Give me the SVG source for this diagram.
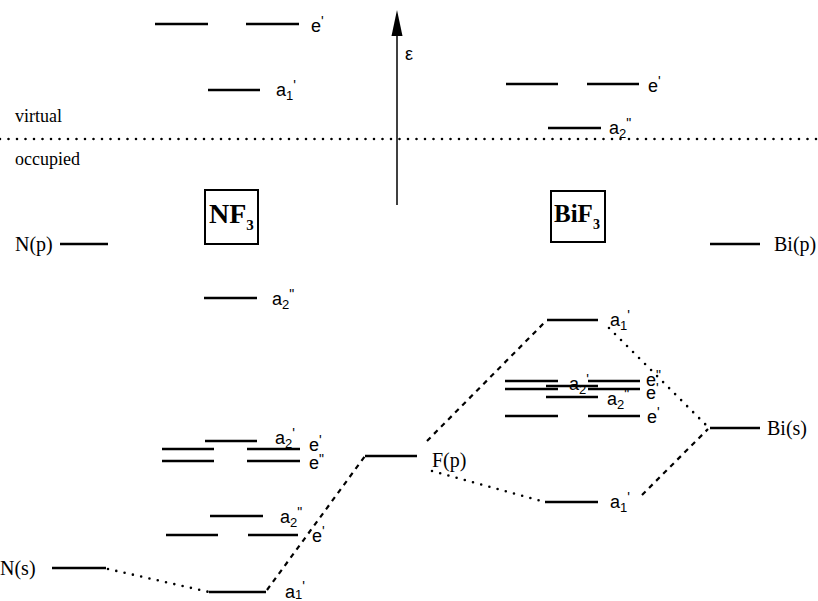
<svg xmlns="http://www.w3.org/2000/svg" width="818" height="601" viewBox="0 0 818 601">
<style>
.lv{stroke:#000;stroke-width:2.3;fill:none}
.dot{stroke:#000;stroke-width:2.6;fill:none;stroke-linecap:round;stroke-dasharray:0 8.5}
.dash{stroke:#000;stroke-width:2.2;fill:none;stroke-dasharray:5 5}
.s{font-family:"Liberation Serif","Times New Roman",serif;font-size:20px;fill:#000}
.t{font-family:"Liberation Serif","Times New Roman",serif;font-size:18px;fill:#000}
.l{font-family:"Liberation Sans",Arial,sans-serif;font-size:18px;fill:#000}
.sup{font-size:14px}
.sub{font-size:13px}
.box{stroke:#000;stroke-width:2;fill:none}
.b{font-family:"Liberation Serif","Times New Roman",serif;font-weight:bold;fill:#000}
</style>
<rect width="818" height="601" fill="#fff"/>
<g id="axis">
<line x1="0" y1="139" x2="818" y2="139" class="dot"/>
<line x1="397" y1="205" x2="397" y2="30" stroke="#000" stroke-width="1.5"/>
<polygon points="397,10 391.5,36 402.5,36" fill="#000"/>
<text x="405" y="60" class="l" font-size="20">ε</text>
<text x="15" y="122" class="t">virtual</text>
<text x="15" y="165" class="t">occupied</text>
</g>
<g id="connectors">
<polyline points="108,569 209,592" class="dot"/>
<polyline points="267,590 365,456" class="dash"/>
<polyline points="427,441 546,321" class="dash"/>
<polyline points="609,328 708,427" class="dot"/>
<polyline points="432,471 545,502" class="dot"/>
<polyline points="642,495 708,429" class="dash"/>
</g>
<g id="NF3-label">
<rect x="205" y="190" width="53" height="54" class="box"/>
<text x="209" y="223" class="b" font-size="28">NF<tspan font-size="15" dy="7">3</tspan></text>
</g>
<g id="BiF3-label">
<rect x="551" y="191" width="54" height="51" class="box"/>
<text x="554" y="222" class="b" font-size="25">BiF<tspan font-size="14" dy="7">3</tspan></text>
</g>
<g id="N-p">
<text x="15" y="251" class="s">N(p)</text>
<line x1="60" y1="244" x2="108" y2="244" class="lv"/>
</g>
<g id="N-s">
<text x="0" y="575" class="s" font-size="22">N(s)</text>
<line x1="52" y1="568" x2="106" y2="568" class="lv"/>
</g>
<g id="F-p">
<line x1="365" y1="456" x2="417" y2="456" class="lv"/>
<text x="432" y="467" class="s">F(p)</text>
</g>
<g id="Bi-p">
<line x1="710" y1="244" x2="760" y2="244" class="lv"/>
<text x="774" y="251" class="s">Bi(p)</text>
</g>
<g id="Bi-s">
<line x1="710" y1="428" x2="760" y2="428" class="lv"/>
<text x="767" y="435" class="s">Bi(s)</text>
</g>
<g id="NF3-e1-virtual">
<line x1="155" y1="24" x2="208" y2="24" class="lv"/>
<line x1="246" y1="24" x2="299" y2="24" class="lv"/>
<text x="311" y="32" class="l">e<tspan class="sup" dy="-6">'</tspan></text>
</g>
<g id="NF3-a1-virtual">
<line x1="208" y1="90" x2="260" y2="90" class="lv"/>
<text x="276" y="96" class="l">a<tspan class="sub" dy="4">1</tspan><tspan class="sup" dy="-10">'</tspan></text>
</g>
<g id="BiF3-e1-virtual">
<line x1="506" y1="84" x2="558" y2="84" class="lv"/>
<line x1="587" y1="84" x2="639" y2="84" class="lv"/>
<text x="648" y="92" class="l">e<tspan class="sup" dy="-6">'</tspan></text>
</g>
<g id="BiF3-a2-virtual">
<line x1="548" y1="128" x2="601" y2="128" class="lv"/>
<text x="609" y="134" class="l">a<tspan class="sub" dy="4">2</tspan><tspan class="sup" dy="-10">"</tspan></text>
</g>
<g id="NF3-a2pp">
<line x1="204" y1="298" x2="257" y2="298" class="lv"/>
<text x="272" y="305" class="l">a<tspan class="sub" dy="4">2</tspan><tspan class="sup" dy="-10">"</tspan></text>
</g>
<g id="NF3-a2p">
<line x1="205" y1="441" x2="257" y2="441" class="lv"/>
<text x="275" y="444" class="l">a<tspan class="sub" dy="4">2</tspan><tspan class="sup" dy="-10">'</tspan></text>
</g>
<g id="NF3-ep">
<line x1="162" y1="449" x2="214" y2="449" class="lv"/>
<line x1="247" y1="449" x2="300" y2="449" class="lv"/>
<text x="309" y="451" class="l">e<tspan class="sup" dy="-6">'</tspan></text>
</g>
<g id="NF3-epp">
<line x1="162" y1="461" x2="214" y2="461" class="lv"/>
<line x1="247" y1="461" x2="300" y2="461" class="lv"/>
<text x="309" y="469" class="l">e<tspan class="sup" dy="-5">"</tspan></text>
</g>
<g id="NF3-a2pp-low">
<line x1="210" y1="516" x2="263" y2="516" class="lv"/>
<text x="280" y="523" class="l">a<tspan class="sub" dy="4">2</tspan><tspan class="sup" dy="-10">"</tspan></text>
</g>
<g id="NF3-ep-low">
<line x1="166" y1="535" x2="218" y2="535" class="lv"/>
<line x1="248" y1="535" x2="298" y2="535" class="lv"/>
<text x="312" y="542" class="l">e<tspan class="sup" dy="-6">'</tspan></text>
</g>
<g id="NF3-a1p">
<line x1="209" y1="592" x2="266" y2="592" class="lv"/>
<text x="285" y="598" class="l" font-size="16">a<tspan class="sub" dy="1">1</tspan><tspan class="sup" dy="-8">'</tspan></text>
</g>
<g id="BiF3-a1p-top">
<line x1="547" y1="320" x2="598" y2="320" class="lv"/>
<text x="610" y="326" class="l">a<tspan class="sub" dy="4">1</tspan><tspan class="sup" dy="-10">'</tspan></text>
</g>
<g id="BiF3-epp">
<line x1="505" y1="381" x2="558" y2="381" class="lv"/>
<line x1="588" y1="381" x2="640" y2="381" class="lv"/>
<text x="646" y="386" class="l">e<tspan class="sup" dy="-6">"</tspan></text>
</g>
<g id="BiF3-a2p">
<line x1="546" y1="386" x2="598" y2="386" class="lv"/>
<text x="569" y="390" class="l">a<tspan class="sub" dy="4">2</tspan><tspan class="sup" dy="-10">'</tspan></text>
</g>
<g id="BiF3-ep">
<line x1="505" y1="389" x2="558" y2="389" class="lv"/>
<line x1="588" y1="389" x2="640" y2="389" class="lv"/>
<text x="646" y="399" class="l">e<tspan class="sup" dy="-6">'</tspan></text>
</g>
<g id="BiF3-a2pp">
<line x1="546" y1="397" x2="598" y2="397" class="lv"/>
<text x="607" y="405" class="l">a<tspan class="sub" dy="4">2</tspan><tspan class="sup" dy="-10">"</tspan></text>
</g>
<g id="BiF3-ep-low">
<line x1="505" y1="416" x2="558" y2="416" class="lv"/>
<line x1="588" y1="416" x2="640" y2="416" class="lv"/>
<text x="647" y="423" class="l">e<tspan class="sup" dy="-6">'</tspan></text>
</g>
<g id="BiF3-a1p-low">
<line x1="545" y1="502" x2="598" y2="502" class="lv"/>
<text x="610" y="508" class="l">a<tspan class="sub" dy="4">1</tspan><tspan class="sup" dy="-10">'</tspan></text>
</g>
</svg>
